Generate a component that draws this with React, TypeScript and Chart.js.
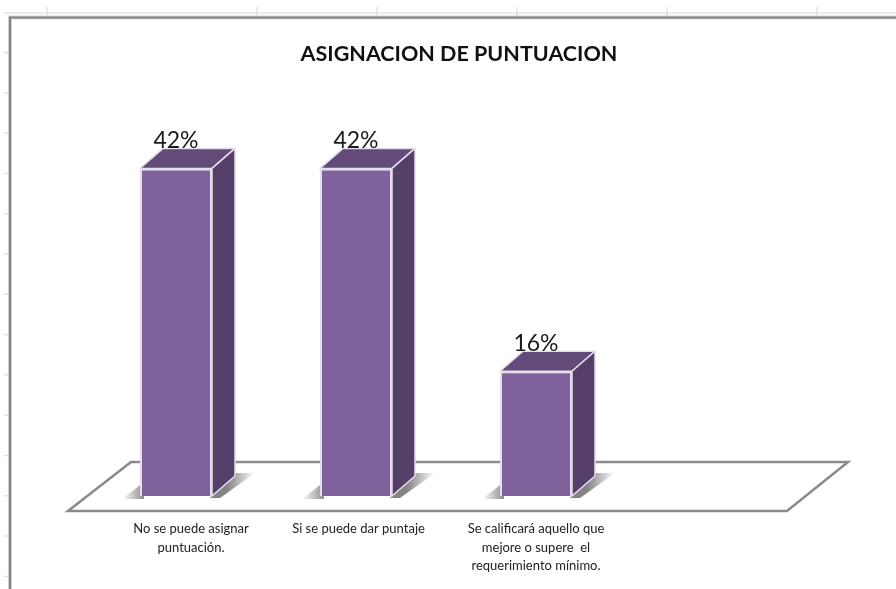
import React, { useEffect, useRef } from "react";
import { Chart, registerables } from "chart.js";

Chart.register(...registerables);

const titleText = "ASIGNACION DE PUNTUACION";
const categories: (string | string[])[] = [
  ["No se puede asignar", "puntuación."],
  "Si se puede dar puntaje",
  ["Se calificará aquello que", "mejore o supere  el", "requerimiento mínimo."],
  "",
];
const percentages: (number | null)[] = [42, 42, 16, null];
const labelShifts = [15, 2.5, 0, 0];

const FRONT = "#7F629C";
const TOP = "#624B78";
const SIDE = "#553F68";
const EDGE = "#E4DEEA";
const FLOOR = "#8A8A8A";
const DX = 23;
const DY = 20;

const decoration = {
  id: "decoration",
  afterLayout(chart: any) {
    // the title sits over the plot floor rather than the page centre
    chart.titleBlock.left += 13;
    chart.titleBlock.right += 13;
    // the category labels are not quite centred under their bars
    chart.scales.x.getLabelItems().forEach((item: any, i: number) => {
      item.options.translation[0] += labelShifts[i] ?? 0;
    });
  },
  beforeDraw(chart: any) {
    const c = chart.ctx;
    const W = chart.width;
    const H = chart.height;
    c.save();
    c.fillStyle = "#fff";
    c.fillRect(0, 0, W, H);
    // worksheet cell lines peeking out around the chart
    c.strokeStyle = "#E2E2E2";
    c.lineWidth = 1.5;
    c.beginPath();
    c.moveTo(4, 13);
    c.lineTo(W, 13);
    for (const x of [47, 257, 377, 517, 667, 817]) {
      c.moveTo(x, 7);
      c.lineTo(x, 16);
    }
    for (let y = 52.5; y < H; y += 40.3) {
      c.moveTo(4, y);
      c.lineTo(9, y);
    }
    c.stroke();
    // chart frame
    c.strokeStyle = "#D4D4D4";
    c.lineWidth = 4;
    c.beginPath();
    c.moveTo(10, H);
    c.lineTo(10, 17.5);
    c.lineTo(W, 17.5);
    c.stroke();
    c.strokeStyle = "#808080";
    c.lineWidth = 2;
    c.stroke();
    c.restore();
  },
  beforeDatasetsDraw(chart: any) {
    const c = chart.ctx;
    const { left, right } = chart.chartArea;
    const base = chart.scales.y.getPixelForValue(0);
    c.save();
    // floor
    c.strokeStyle = FLOOR;
    c.lineWidth = 2.5;
    c.lineJoin = "miter";
    c.beginPath();
    c.moveTo(left - 18, base + 15);
    c.lineTo(right - 19, base + 15);
    c.lineTo(right + 42, base - 34);
    c.lineTo(left + 45, base - 34);
    c.closePath();
    c.stroke();
    // soft shadows on the floor
    chart.getDatasetMeta(0).data.forEach((bar: any, i: number) => {
      if (percentages[i] == null) return;
      const { x, width } = bar.getProps(["x", "width"], true);
      const l = x - width / 2;
      const r = x + width / 2;
      let g = c.createLinearGradient(l - 18, 0, l + 6, 0);
      g.addColorStop(0, "rgba(110,110,110,0)");
      g.addColorStop(1, "rgba(110,110,110,0.85)");
      c.fillStyle = g;
      c.beginPath();
      c.moveTo(l - 18, base + 3);
      c.lineTo(l + 4, base - 14);
      c.lineTo(l + 4, base + 3);
      c.closePath();
      c.fill();
      g = c.createLinearGradient(r + DX - 8, 0, r + DX + 20, 0);
      g.addColorStop(0, "rgba(110,110,110,0.85)");
      g.addColorStop(1, "rgba(110,110,110,0)");
      c.fillStyle = g;
      c.beginPath();
      c.moveTo(r - 2, base + 2);
      c.lineTo(r + DX - 4, base - 23);
      c.lineTo(r + DX + 20, base - 23);
      c.lineTo(r + 8, base + 2);
      c.closePath();
      c.fill();
    });
    c.restore();
  },
  afterDatasetsDraw(chart: any) {
    const c = chart.ctx;
    c.save();
    chart.getDatasetMeta(0).data.forEach((bar: any, i: number) => {
      const value = percentages[i];
      if (value == null) return;
      const { x, y, base, width } = bar.getProps(["x", "y", "base", "width"], true);
      const l = x - width / 2;
      const r = x + width / 2;
      c.strokeStyle = EDGE;
      c.lineWidth = 1.5;
      c.lineJoin = "round";
      c.fillStyle = TOP;
      c.beginPath();
      c.moveTo(l, y);
      c.lineTo(l + DX, y - DY);
      c.lineTo(r + DX, y - DY);
      c.lineTo(r, y);
      c.closePath();
      c.fill();
      c.stroke();
      c.fillStyle = SIDE;
      c.beginPath();
      c.moveTo(r, y);
      c.lineTo(r + DX, y - DY);
      c.lineTo(r + DX, base - DY);
      c.lineTo(r, base);
      c.closePath();
      c.fill();
      c.stroke();
      c.fillStyle = "#1a1a1a";
      c.font = "23px Lato";
      c.textAlign = "center";
      c.textBaseline = "middle";
      c.fillText(`${value}%`, x, y - 28);
    });
    c.restore();
  },
};

export default function App() {
  const ref = useRef<HTMLCanvasElement>(null);
  useEffect(() => {
    document.body.style.margin = "0";
    const chart = new Chart(ref.current!, {
      type: "bar",
      data: {
        labels: categories as any,
        datasets: [
          {
            data: percentages,
            backgroundColor: FRONT,
            borderColor: EDGE,
            borderWidth: 2,
            barPercentage: 0.4,
            categoryPercentage: 1,
          },
        ],
      },
      options: {
        responsive: false,
        animation: false,
        layout: { padding: { left: 86, right: 90, top: 0, bottom: 0 } },
        plugins: {
          legend: { display: false },
          tooltip: { enabled: false },
          title: {
            display: true,
            text: titleText,
            color: "#111",
            font: { family: "Lato", size: 21.5, weight: "bold", lineHeight: 1.2 },
            padding: { top: 41, bottom: 39.2 },
          },
        },
        scales: {
          x: {
            afterFit(scale: any) {
              scale.height = 93;
            },
            grid: { display: false, drawTicks: false },
            border: { display: false },
            ticks: {
              padding: 24,
              maxRotation: 0,
              autoSkip: false,
              color: "#222",
              font: { family: "Lato", size: 13, lineHeight: 1.42 },
            },
          },
          y: { display: false, min: 0, max: 50 },
        },
      },
      plugins: [decoration],
    });
    return () => chart.destroy();
  }, []);
  return <canvas ref={ref} width={896} height={589} style={{ display: "block" }} />;
}
